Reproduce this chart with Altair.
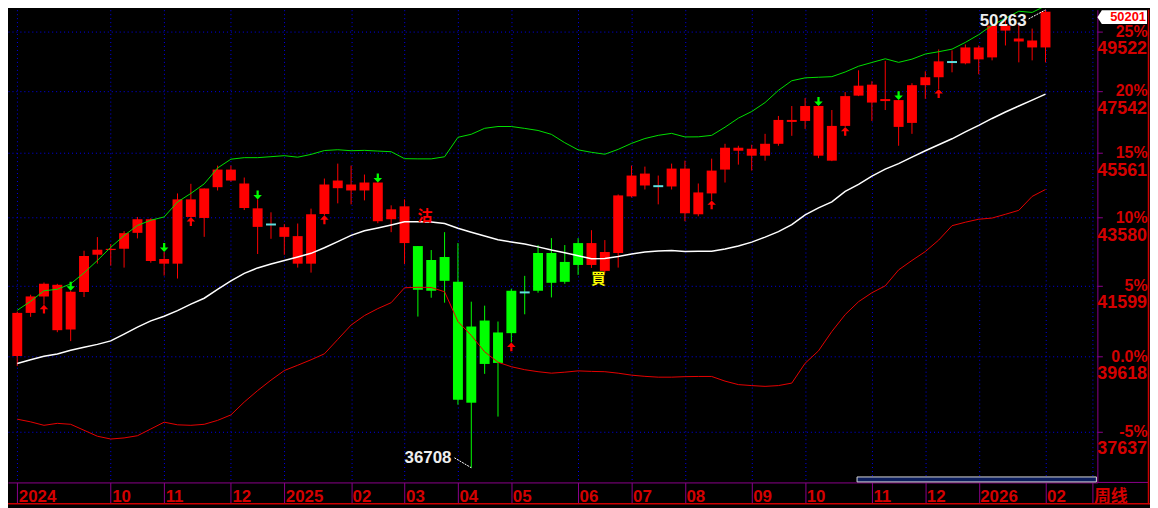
import altair as alt
import pandas as pd

# ---------------- data (weekly candles) ----------------
first_week = "2024-08-16"   # one candle per week (Friday)

opens = [39634, 40825, 41289, 41620, 40362, 41414, 42489, 42625, 42663, 43131,
         43536, 42364, 42228, 44133, 43574, 44504, 45045, 44617, 43863, 43379,
         43299, 43034, 42228, 43693, 44474, 44586, 44404, 44647, 43536, 43923,
         42741, 42335, 41734, 41705, 38384, 40611, 39446, 40261, 41403, 41450,
         42538, 41705, 42191, 42829, 42019, 42538, 44224, 44922, 44535, 44526,
         45076, 43684, 44314, 45045, 45632, 45694, 45477, 45850, 46543, 46575,
         47054, 45322, 46416, 47391, 47749, 47214, 47246, 46512, 47732, 47993,
         48496, 48453, 48985, 48651, 49724, 49286, 49219, 48985]
closes = [40825, 41289, 41648, 40343, 41422, 42451, 42634, 42660, 43122, 43536,
          42306, 42228, 44133, 43604, 44464, 45045, 44708, 43872, 43308, 43379,
          43013, 42228, 43684, 44586, 44708, 44404, 44647, 43476, 43833, 42829,
          41478, 41450, 42422, 38463, 40445, 39419, 40280, 41450, 41403, 42538,
          41677, 42278, 42829, 42191, 42567, 44254, 44861, 44556, 44535, 45076,
          43714, 44344, 45014, 45726, 45726, 45477, 45850, 46607, 46607, 47054,
          45477, 46416, 47375, 47716, 47166, 47279, 46385, 47732, 47993, 48519,
          48496, 48985, 48585, 49724, 49555, 49185, 48985, 50201]
highs = [40861, 41337, 41685, 41648, 41450, 42605, 43005, 42800, 43181, 43604,
         43565, 42567, 44314, 44607, 44464, 45168, 45168, 44800, 44133, 43743,
         43388, 43408, 43854, 44769, 45230, 45168, 44892, 44647, 43953, 44133,
         42741, 42625, 43151, 42829, 41140, 41028, 40584, 41506, 41876, 42771,
         42975, 42771, 42975, 43210, 42917, 44284, 45168, 45137, 44861, 45230,
         45322, 44617, 45384, 45850, 45788, 45819, 46164, 46734, 47054, 47311,
         47054, 46925, 47505, 48222, 47862, 48536, 47246, 47797, 48189, 48918,
         48884, 49085, 49051, 49860, 49928, 49792, 49623, 50263]
lows = [39365, 40714, 41056, 40288, 40042, 41272, 42229, 42172, 42114, 42967,
        42257, 41885, 41799, 43600, 43013, 44404, 44678, 43812, 42509, 42955,
        42488, 42114, 41970, 43654, 44013, 43983, 44103, 43417, 43151, 42219,
        40722, 41252, 41112, 38332, 36708, 39152, 38020, 40006, 40786, 41394,
        41261, 41648, 41905, 42105, 41962, 42114, 44193, 44434, 43983, 44434,
        43476, 43625, 44103, 44647, 45199, 45014, 45322, 45788, 46101, 46321,
        45399, 45307, 46385, 47375, 46575, 46925, 45788, 46164, 47287, 47602,
        48156, 48420, 48091, 48552, 49051, 48486, 48552, 48486]

upper_band = [40898, 41151, 41450, 41492, 41648, 41962, 42321, 42704, 43051, 43349,
              43506, 43604, 44055, 44314, 44605, 45094, 45368, 45415, 45415, 45446,
              45477, 45430, 45517, 45638, 45663, 45632, 45644, 45622, 45601, 45384,
              45378, 45378, 45443, 46054, 46151, 46340, 46397, 46397, 46337, 46271,
              46148, 45884, 45660, 45582, 45523, 45675, 45863, 46016, 46116, 46179,
              46066, 46069, 46116, 46375, 46664, 46877, 47166, 47563, 47878, 47973,
              47993, 48012, 48166, 48357, 48482, 48605, 48486, 48592, 48764, 48841,
              48928, 49155, 49416, 49738, 49972, 50217, 50176, 50405]
middle_band = [39432, 39532, 39626, 39691, 39789, 39876, 39952, 40047, 40236, 40426,
               40603, 40731, 40889, 41070, 41238, 41492, 41734, 41948, 42105, 42220,
               42321, 42422, 42529, 42692, 42873, 43056, 43195, 43275, 43364, 43462,
               43462, 43456, 43408, 43269, 43151, 43039, 42926, 42859, 42800, 42718,
               42625, 42547, 42460, 42370, 42379, 42436, 42509, 42567, 42596, 42611,
               42582, 42590, 42590, 42654, 42741, 42858, 43004, 43166, 43373, 43669,
               43878, 44058, 44374, 44593, 44846, 45060, 45230, 45430, 45632, 45819,
               46007, 46227, 46432, 46654, 46861, 47054, 47246, 47440]
lower_band = [37952, 37883, 37793, 37844, 37819, 37665, 37511, 37439, 37467, 37524,
              37698, 37875, 37806, 37793, 37819, 37921, 38064, 38402, 38705, 38983,
              39242, 39384, 39532, 39694, 40088, 40486, 40750, 40945, 41112, 41535,
              41549, 41543, 41422, 40584, 40198, 39748, 39465, 39344, 39264, 39210,
              39170, 39197, 39232, 39218, 39210, 39170, 39117, 39085, 39063, 39063,
              39077, 39082, 39082, 38957, 38864, 38838, 38817, 38838, 38904, 39438,
              39775, 40307, 40778, 41140, 41393, 41591, 42048, 42321, 42581, 42917,
              43343, 43447, 43536, 43571, 43684, 43803, 44223, 44434]

# trading signals
sell_week = 30          # 沽
buy_week = 43           # 買
sell_text_price = 43640
buy_text_price = 41776
down_arrow_weeks = [4, 11, 18, 27, 60, 66]
up_arrow_weeks = [2, 13, 23, 37, 52, 62, 69]

# x axis labels (first candle of each month)
month_dates = ["2024-08-16", "2024-10-04", "2024-11-01", "2024-12-06", "2025-01-03",
               "2025-02-07", "2025-03-07", "2025-04-04", "2025-05-02", "2025-06-06",
               "2025-07-04", "2025-08-01", "2025-09-05", "2025-10-03", "2025-11-07",
               "2025-12-05", "2026-01-02", "2026-02-06"]
month_labels = ["2024", "10", "11", "12", "2025", "02", "03", "04", "05", "06",
                "07", "08", "09", "10", "11", "12", "2026", "02"]
period_label = "周线"

# right axis
tick_values = [37637, 39618, 41599, 43580, 45561, 47542, 49522]
pct_labels = ["-5%", "0.0%", "5%", "10%", "15%", "20%", "25%"]
price_labels = ["37637", "39618", "41599", "43580", "45561", "47542", "49522"]

# ---------------- styling ----------------
W, H = 1097, 476
FONT = "Liberation Sans"
CJK = "Noto Sans CJK TC"
RED = "#ff0000"
GREEN = "#00ff00"
DOJI = "#5fe0e0"
GRID = "#0000f0"
FRAME = "#8b008b"
AXTXT = "#d40000"
BORDER = "#cc0000"
YELLOW = "#ffff00"

n = len(opens)
dates = list(pd.date_range(first_week, periods=n, freq="7D").strftime("%Y-%m-%d"))
trend = [GREEN if sell_week <= i < buy_week else RED for i in range(n)]
candles = pd.DataFrame({"date": dates, "open": opens, "high": highs, "low": lows,
                        "close": closes, "col": trend})
bands = pd.DataFrame({
    "date": dates * 3,
    "value": upper_band + middle_band + lower_band,
    "band": ["upper"] * n + ["middle"] * n + ["lower"] * n,
})


def dt(s, hours=0, minutes=0):
    y, m, d = map(int, s.split("-"))
    return alt.DateTime(year=y, month=m, date=d, hours=hours, minutes=minutes, utc=True)


x_start = dt("2024-08-13", 17, 56)
x_end_day = "2026-03-02"
x_end = dt(x_end_day, 14, 0)

xscale = alt.Scale(type="utc", domain=[x_start, x_end], nice=False)
yscale = alt.Scale(type="log", domain=[36340, 50269], nice=False, zero=False)

x_label_expr = "".join(
    f"utcFormat(datum.value, '%Y-%m-%d') == '{d}' ? '{t}' : "
    for d, t in zip(month_dates, month_labels)
) + f"utcFormat(datum.value, '%Y-%m-%d') == '{x_end_day}' ? '\u00a0\u00a0{period_label}' : ''"

xaxis = alt.Axis(
    values=[dt(d) for d in month_dates] + [x_end],
    labelExpr=x_label_expr, title=None,
    grid=True, gridColor=GRID, gridDash=[1, 3], gridWidth=1,
    domainColor=FRAME, domainWidth=1, tickColor=FRAME, tickSize=21, tickWidth=1,
    labelColor=AXTXT, labelFont=f"{FONT}, Noto Sans CJK SC", labelFontSize=17,
    labelFontWeight="bold", labelAlign="left", labelBaseline="alphabetic",
    labelPadding=-2, labelOffset=1, labelOverlap=False, labelFlush=False,
)

y_label_expr = "".join(
    f"datum.value == {v} ? '{t}' : " for v, t in zip(tick_values, pct_labels)
) + "''"

yaxis = alt.Axis(
    orient="right", values=tick_values, labelExpr=y_label_expr, title=None,
    grid=True, gridColor=GRID, gridDash=[1, 3], gridWidth=1,
    domainColor=FRAME, domainWidth=1, tickColor=FRAME, tickSize=5, tickWidth=1,
    labelColor=AXTXT, labelFont=FONT, labelFontSize=16, labelFontWeight="bold",
    labelAlign="right", labelBaseline="middle", labelPadding=45,
    labelOverlap=False, labelFlush=False,
)


def X(field="date"):
    return alt.X(f"{field}:T", scale=xscale, axis=xaxis, title=None)


def Y(field):
    return alt.Y(f"{field}:Q", scale=yscale, axis=yaxis, title=None)


# ---------------- frame decorations ----------------
frame = alt.Chart(pd.DataFrame({"k": [0]}))
purple_ext = frame.mark_rule(color=FRAME, strokeWidth=1).encode(
    x=alt.value(W), x2=alt.value(W + 51), y=alt.value(H))
red_bottom = frame.mark_rule(color=BORDER, strokeWidth=1.5).encode(
    x=alt.value(0), x2=alt.value(W + 53), y=alt.value(H + 21.5))
red_right = frame.mark_rule(color=BORDER, strokeWidth=1.5).encode(
    x=alt.value(W + 51.5), y=alt.value(0), y2=alt.value(H + 22))
scroll = frame.mark_rect(color="#0b1d5c", stroke="#d8d8d8", strokeWidth=1).encode(
    x=alt.value(855), x2=alt.value(1096), y=alt.value(470.5), y2=alt.value(475.5))

# ---------------- candles ----------------
wicks = alt.Chart(candles).mark_rule(strokeWidth=1).encode(
    x=X(), y=Y("low"), y2="high:Q", color=alt.Color("col:N", scale=None))
bodies = alt.Chart(candles).transform_filter("datum.open != datum.close").mark_bar(size=10).encode(
    x=X(), y=Y("open"), y2="close:Q", color=alt.Color("col:N", scale=None))
dojis = alt.Chart(candles).transform_filter("datum.open == datum.close").mark_tick(
    orient="horizontal", size=10, thickness=2, color=DOJI, opacity=1).encode(
    x=X(), y=Y("close"))

band_lines = alt.Chart(bands).transform_filter("datum.band != 'middle'").mark_line(strokeWidth=1).encode(
    x=X(), y=Y("value"),
    color=alt.Color("band:N", scale=alt.Scale(domain=["upper", "lower"],
                                              range=["#00e000", "#e60000"]),
                    legend=None))
mid_line = alt.Chart(bands).transform_filter("datum.band == 'middle'").mark_line(
    strokeWidth=1.5, color="#ffffff").encode(x=X(), y=Y("value"))

DOWN = "M0,0L-0.95,-1L-0.25,-1L-0.25,-2L0.25,-2L0.25,-1L0.95,-1Z"
UP = "M0,0L-0.95,1L-0.25,1L-0.25,2L0.25,2L0.25,1L0.95,1Z"
down_arrows = alt.Chart(candles.iloc[down_arrow_weeks]).mark_point(
    shape=DOWN, size=81, filled=True, opacity=1, color=GREEN, strokeWidth=0).encode(
    x=X(), y=Y("high"))
up_arrows = alt.Chart(candles.iloc[up_arrow_weeks]).mark_point(
    shape=UP, size=81, filled=True, opacity=1, color=RED, strokeWidth=0).encode(
    x=X(), y=Y("low"))

signals = pd.DataFrame({"date": [dates[sell_week], dates[buy_week]],
                        "price": [sell_text_price, buy_text_price],
                        "text": ["沽", "買"], "col": [RED, YELLOW]})
signal_text = alt.Chart(signals).mark_text(
    dx=7, font=CJK, fontSize=15, fontWeight="bold", align="center", baseline="middle").encode(
    x=X(), y=Y("price"), text="text:N", color=alt.Color("col:N", scale=None))

# extremes
hi_i = highs.index(max(highs))
lo_i = lows.index(min(lows))
ext_hi = pd.DataFrame({"date": [dates[hi_i]], "price": [highs[hi_i]], "label": [str(highs[hi_i])]})
ext_lo = pd.DataFrame({"date": [dates[lo_i]], "price": [lows[lo_i]], "label": [str(lows[lo_i])]})
lead_hi = alt.Chart(ext_hi).mark_rule(color="#ffffff", strokeWidth=1, strokeDash=[2, 1],
                                      xOffset=-17, yOffset=9).encode(
    x=X(), y=Y("price"), x2="date:T", y2="price:Q")
lead_lo = alt.Chart(ext_lo).mark_rule(color="#ffffff", strokeWidth=1, strokeDash=[2, 1],
                                      xOffset=-17, yOffset=-10).encode(
    x=X(), y=Y("price"), x2="date:T", y2="price:Q")
text_hi = alt.Chart(ext_hi).mark_text(align="right", baseline="middle", dx=-19, dy=11,
                                      font=FONT, fontSize=17, fontWeight="bold",
                                      color="#eeeeee").encode(x=X(), y=Y("price"), text="label:N")
text_lo = alt.Chart(ext_lo).mark_text(align="right", baseline="middle", dx=-20, dy=-10,
                                      font=FONT, fontSize=17, fontWeight="bold",
                                      color="#eeeeee").encode(x=X(), y=Y("price"), text="label:N")

# price labels under the percent labels on the right axis
ticks_df = pd.DataFrame({"price": tick_values, "label": price_labels})
tick_text = alt.Chart(ticks_df).mark_text(
    align="right", baseline="middle", dy=18, font=FONT, fontSize=18, fontWeight="bold",
    color=AXTXT).encode(x=alt.value(W + 50), y=Y("price"), text="label:N")

# current price tag
last = pd.DataFrame({"price": [closes[-1]], "label": [str(closes[-1])]})
BOX = "M-1,0L-0.82,-0.28L1,-0.28L1,0.28L-0.82,0.28Z"
tag_box = alt.Chart(last).mark_point(shape=BOX, size=2500, filled=True, opacity=1,
                                     color="#ffffff", strokeWidth=0, yOffset=5.5).encode(
    x=alt.value(W + 25), y=Y("price"))
tag_text = alt.Chart(last).mark_text(align="right", baseline="middle", dy=5.5, font=FONT,
                                     fontSize=13, fontWeight="bold", color=RED).encode(
    x=alt.value(W + 49), y=Y("price"), text="label:N")

chart = alt.layer(
    purple_ext, red_bottom, red_right, scroll,
    wicks, bodies, dojis, band_lines, mid_line, down_arrows, up_arrows, signal_text,
    lead_hi, lead_lo, text_hi, text_lo, tick_text, tag_box, tag_text,
).properties(
    width=W, height=H, background="#000000",
    padding={"left": 0, "top": 0, "right": 53, "bottom": 24},
    autosize=alt.AutoSizeParams(type="none"),
).configure_view(strokeWidth=0)

chart.save("out.html", embed_options={"renderer": "svg", "actions": False})
